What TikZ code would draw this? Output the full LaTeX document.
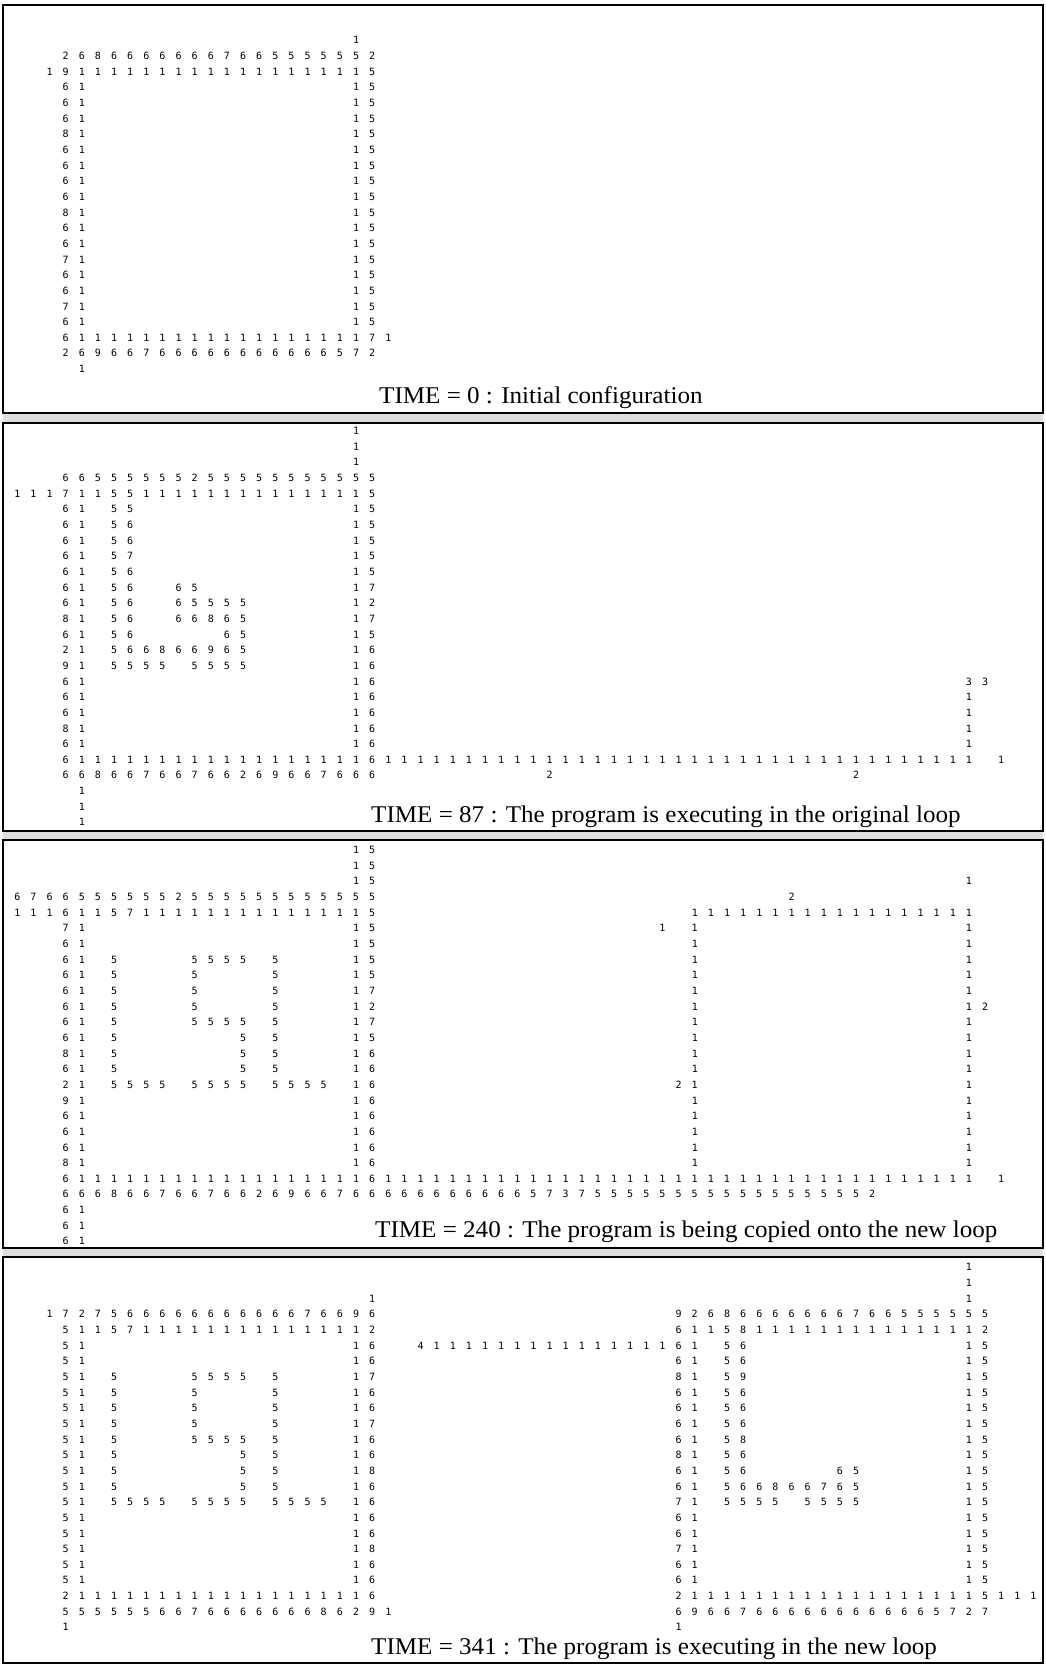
\documentclass[tikz,border=0pt]{standalone}
\usepackage{fontspec}
\usepackage{graphicx}
\newfontfamily\dgfont{DejaVu Sans Mono}
\newfontfamily\capfont{Liberation Serif}
\ExplSyntaxOn
\cs_new:Npn \rep #1#2 { \prg_replicate:nn {#1} {#2} }
\ExplSyntaxOff
\newdimen\cw \cw=16.13pt
\def\rtend{\rtend}
\def\rt#1{\ifx#1\rtend\else\if.#1\hbox to\cw{}\else\hbox to\cw{\hss#1\hss}\fi\expandafter\rt\fi}
\newcommand\drow[5]{\edef\rowstr{#5}\node[dg] (#1) at ({9.235+16.13*(#4)},{#2+15.65*(#3)+3.65}) {\expandafter\rt\rowstr\rtend};}
\newcommand\captext[1]{\scalebox{1.045}[1]{#1}}
\def\YA{40.3}\def\YB{431}\def\YC{850}\def\YD{1267.3}
\begin{document}
\begin{tikzpicture}[x=1pt,y=-1pt,
  dg/.style={anchor=base west,inner sep=0pt,outer sep=0pt,font=\dgfont\fontsize{10}{12}\selectfont},
  captxt/.style={anchor=base west,inner sep=0pt,font=\capfont\fontsize{24}{28}\selectfont},
  panelframe/.style={draw=black,line width=2pt}]
\useasboundingbox (0,0) rectangle (1046,1666);
% gaps and frames
\fill[gray!25] (3.3,412.7) rectangle (1043,422.7);
\fill[gray!25] (3.3,830.7) rectangle (1043,840);
\fill[gray!25] (3.3,1248) rectangle (1043,1257);
\draw[panelframe] (3.3,5) rectangle (1043,412.7);
\draw[panelframe] (3.3,422.7) rectangle (1043,830.7);
\draw[panelframe] (3.3,840) rectangle (1043,1248);
\draw[panelframe] (3.3,1257) rectangle (1043,1663);
% ---------------- Panel 1
\drow{a0}{\YA}{0}{21}{1}
\drow{a1}{\YA}{1}{3}{26866666667665555552}
\drow{a2}{\YA}{2}{2}{19\rep{18}{1}5}
\drow{a3}{\YA}{3}{3}{61\rep{16}{.}15}
\drow{a4}{\YA}{4}{3}{61\rep{16}{.}15}
\drow{a5}{\YA}{5}{3}{61\rep{16}{.}15}
\drow{a6}{\YA}{6}{3}{81\rep{16}{.}15}
\drow{a7}{\YA}{7}{3}{61\rep{16}{.}15}
\drow{a8}{\YA}{8}{3}{61\rep{16}{.}15}
\drow{a9}{\YA}{9}{3}{61\rep{16}{.}15}
\drow{a10}{\YA}{10}{3}{61\rep{16}{.}15}
\drow{a11}{\YA}{11}{3}{81\rep{16}{.}15}
\drow{a12}{\YA}{12}{3}{61\rep{16}{.}15}
\drow{a13}{\YA}{13}{3}{61\rep{16}{.}15}
\drow{a14}{\YA}{14}{3}{71\rep{16}{.}15}
\drow{a15}{\YA}{15}{3}{61\rep{16}{.}15}
\drow{a16}{\YA}{16}{3}{61\rep{16}{.}15}
\drow{a17}{\YA}{17}{3}{71\rep{16}{.}15}
\drow{a18}{\YA}{18}{3}{61\rep{16}{.}15}
\drow{a19}{\YA}{19}{3}{6\rep{18}{1}71}
\drow{a20}{\YA}{20}{3}{269667\rep{11}{6}572}
\drow{a21}{\YA}{21}{4}{1}
\node[captxt] (cap1) at (379,403.2) {\captext{TIME = 0 : Initial configuration}};
% ---------------- Panel 2
\drow{b0}{\YB}{0}{21}{1}
\drow{b1}{\YB}{1}{21}{1}
\drow{b2}{\YB}{2}{21}{1}
\drow{b3}{\YB}{3}{3}{66\rep{6}{5}2\rep{11}{5}}
\drow{b4}{\YB}{4}{0}{11171155\rep{14}{1}5}
\drow{b5}{\YB}{5}{3}{61.55\rep{13}{.}15}
\drow{b6}{\YB}{6}{3}{61.56\rep{13}{.}15}
\drow{b7}{\YB}{7}{3}{61.56\rep{13}{.}15}
\drow{b8}{\YB}{8}{3}{61.57\rep{13}{.}15}
\drow{b9}{\YB}{9}{3}{61.56\rep{13}{.}15}
\drow{b10}{\YB}{10}{3}{61.56..65\rep{9}{.}17}
\drow{b11}{\YB}{11}{3}{61.56..65555\rep{6}{.}12}
\drow{b12}{\YB}{12}{3}{81.56..66865\rep{6}{.}17}
\drow{b13}{\YB}{13}{3}{61.56.....65\rep{6}{.}15}
\drow{b14}{\YB}{14}{3}{21.566866965\rep{6}{.}16}
\drow{b15}{\YB}{15}{3}{91.5555.5555\rep{6}{.}16}
\drow{b16}{\YB}{16}{3}{61\rep{16}{.}16}
\drow{b16r}{\YB}{16}{59}{33}
\drow{b17}{\YB}{17}{3}{61\rep{16}{.}16}
\drow{b17r}{\YB}{17}{59}{1}
\drow{b18}{\YB}{18}{3}{61\rep{16}{.}16}
\drow{b18r}{\YB}{18}{59}{1}
\drow{b19}{\YB}{19}{3}{81\rep{16}{.}16}
\drow{b19r}{\YB}{19}{59}{1}
\drow{b20}{\YB}{20}{3}{61\rep{16}{.}16}
\drow{b20r}{\YB}{20}{59}{1}
\drow{b21}{\YB}{21}{3}{6\rep{18}{1}6\rep{37}{1}.1}
\drow{b22}{\YB}{22}{3}{66866766766269667666}
\drow{b22a}{\YB}{22}{33}{2}
\drow{b22b}{\YB}{22}{52}{2}
\drow{b23}{\YB}{23}{4}{1}
\drow{b24}{\YB}{24}{4}{1}
\drow{b25}{\YB}{25}{4}{1}
\node[captxt] (cap2) at (371,822.5) {\captext{TIME = 87 : The program is executing in the original loop}};
% ---------------- Panel 3
\drow{c0}{\YC}{0}{21}{15}
\drow{c1}{\YC}{1}{21}{15}
\drow{c2}{\YC}{2}{21}{15}
\drow{c2r}{\YC}{2}{59}{1}
\drow{c3}{\YC}{3}{0}{6766\rep{6}{5}2\rep{12}{5}}
\drow{c3r}{\YC}{3}{48}{2}
\drow{c4}{\YC}{4}{0}{11161157\rep{14}{1}5}
\drow{c4r}{\YC}{4}{42}{\rep{18}{1}}
\drow{c5}{\YC}{5}{3}{71\rep{16}{.}15}
\drow{c5r}{\YC}{5}{40}{1.1\rep{16}{.}1}
\drow{c6}{\YC}{6}{3}{61\rep{16}{.}15}
\drow{c6r}{\YC}{6}{42}{1\rep{16}{.}1}
\drow{c7}{\YC}{7}{3}{61.5....5555.5....15}
\drow{c7r}{\YC}{7}{42}{1\rep{16}{.}1}
\drow{c8}{\YC}{8}{3}{61.5....5....5....15}
\drow{c8r}{\YC}{8}{42}{1\rep{16}{.}1}
\drow{c9}{\YC}{9}{3}{61.5....5....5....17}
\drow{c9r}{\YC}{9}{42}{1\rep{16}{.}1}
\drow{c10}{\YC}{10}{3}{61.5....5....5....12}
\drow{c10r}{\YC}{10}{42}{1\rep{16}{.}12}
\drow{c11}{\YC}{11}{3}{61.5....5555.5....17}
\drow{c11r}{\YC}{11}{42}{1\rep{16}{.}1}
\drow{c12}{\YC}{12}{3}{61.5.......5.5....15}
\drow{c12r}{\YC}{12}{42}{1\rep{16}{.}1}
\drow{c13}{\YC}{13}{3}{81.5.......5.5....16}
\drow{c13r}{\YC}{13}{42}{1\rep{16}{.}1}
\drow{c14}{\YC}{14}{3}{61.5.......5.5....16}
\drow{c14r}{\YC}{14}{42}{1\rep{16}{.}1}
\drow{c15}{\YC}{15}{3}{21.5555.5555.5555.16}
\drow{c15r}{\YC}{15}{41}{21\rep{16}{.}1}
\drow{c16}{\YC}{16}{3}{91\rep{16}{.}16}
\drow{c16r}{\YC}{16}{42}{1\rep{16}{.}1}
\drow{c17}{\YC}{17}{3}{61\rep{16}{.}16}
\drow{c17r}{\YC}{17}{42}{1\rep{16}{.}1}
\drow{c18}{\YC}{18}{3}{61\rep{16}{.}16}
\drow{c18r}{\YC}{18}{42}{1\rep{16}{.}1}
\drow{c19}{\YC}{19}{3}{61\rep{16}{.}16}
\drow{c19r}{\YC}{19}{42}{1\rep{16}{.}1}
\drow{c20}{\YC}{20}{3}{81\rep{16}{.}16}
\drow{c20r}{\YC}{20}{42}{1\rep{16}{.}1}
\drow{c21}{\YC}{21}{3}{6\rep{18}{1}6\rep{37}{1}.1}
\drow{c22}{\YC}{22}{3}{66686676676626966766666\rep{6}{6}5737\rep{17}{5}2}
\drow{c23}{\YC}{23}{3}{61}
\drow{c24}{\YC}{24}{3}{61}
\drow{c25}{\YC}{25}{3}{61}
\node[captxt] (cap3) at (375,1237.5) {\captext{TIME = 240 : The program is being copied onto the new loop}};
% ---------------- Panel 4
\drow{d0}{\YD}{0}{59}{1}
\drow{d1}{\YD}{1}{59}{1}
\drow{d2}{\YD}{2}{22}{1}
\drow{d2r}{\YD}{2}{59}{1}
\drow{d3}{\YD}{3}{2}{17275\rep{11}{6}76696}
\drow{d3r}{\YD}{3}{41}{92686666666766555555}
\drow{d4}{\YD}{4}{3}{51157\rep{14}{1}2}
\drow{d4r}{\YD}{4}{41}{61158\rep{14}{1}2}
\drow{d5}{\YD}{5}{3}{51\rep{16}{.}16}
\drow{d5r}{\YD}{5}{25}{4\rep{15}{1}61.56\rep{13}{.}15}
\drow{d6}{\YD}{6}{3}{51\rep{16}{.}16}
\drow{d6r}{\YD}{6}{41}{61.56\rep{13}{.}15}
\drow{d7}{\YD}{7}{3}{51.5....5555.5....17}
\drow{d7r}{\YD}{7}{41}{81.59\rep{13}{.}15}
\drow{d8}{\YD}{8}{3}{51.5....5....5....16}
\drow{d8r}{\YD}{8}{41}{61.56\rep{13}{.}15}
\drow{d9}{\YD}{9}{3}{51.5....5....5....16}
\drow{d9r}{\YD}{9}{41}{61.56\rep{13}{.}15}
\drow{d10}{\YD}{10}{3}{51.5....5....5....17}
\drow{d10r}{\YD}{10}{41}{61.56\rep{13}{.}15}
\drow{d11}{\YD}{11}{3}{51.5....5555.5....16}
\drow{d11r}{\YD}{11}{41}{61.58\rep{13}{.}15}
\drow{d12}{\YD}{12}{3}{51.5.......5.5....16}
\drow{d12r}{\YD}{12}{41}{81.56\rep{13}{.}15}
\drow{d13}{\YD}{13}{3}{51.5.......5.5....18}
\drow{d13r}{\YD}{13}{41}{61.56.....65\rep{6}{.}15}
\drow{d14}{\YD}{14}{3}{51.5.......5.5....16}
\drow{d14r}{\YD}{14}{41}{61.566866765\rep{6}{.}15}
\drow{d15}{\YD}{15}{3}{51.5555.5555.5555.16}
\drow{d15r}{\YD}{15}{41}{71.5555.5555\rep{6}{.}15}
\drow{d16}{\YD}{16}{3}{51\rep{16}{.}16}
\drow{d16r}{\YD}{16}{41}{61\rep{16}{.}15}
\drow{d17}{\YD}{17}{3}{51\rep{16}{.}16}
\drow{d17r}{\YD}{17}{41}{61\rep{16}{.}15}
\drow{d18}{\YD}{18}{3}{51\rep{16}{.}18}
\drow{d18r}{\YD}{18}{41}{71\rep{16}{.}15}
\drow{d19}{\YD}{19}{3}{51\rep{16}{.}16}
\drow{d19r}{\YD}{19}{41}{61\rep{16}{.}15}
\drow{d20}{\YD}{20}{3}{51\rep{16}{.}16}
\drow{d20r}{\YD}{20}{41}{61\rep{16}{.}15}
\drow{d21}{\YD}{21}{3}{2\rep{18}{1}6}
\drow{d21r}{\YD}{21}{41}{2\rep{18}{1}5111}
\drow{d22}{\YD}{22}{3}{555555667\rep{7}{6}86291}
\drow{d22r}{\YD}{22}{41}{69667\rep{11}{6}5727}
\drow{d23}{\YD}{23}{3}{1}
\drow{d23r}{\YD}{23}{41}{1}
\node[captxt] (cap4) at (371,1654.2) {\captext{TIME = 341 : The program is executing in the new loop}};
\end{tikzpicture}
\end{document}
